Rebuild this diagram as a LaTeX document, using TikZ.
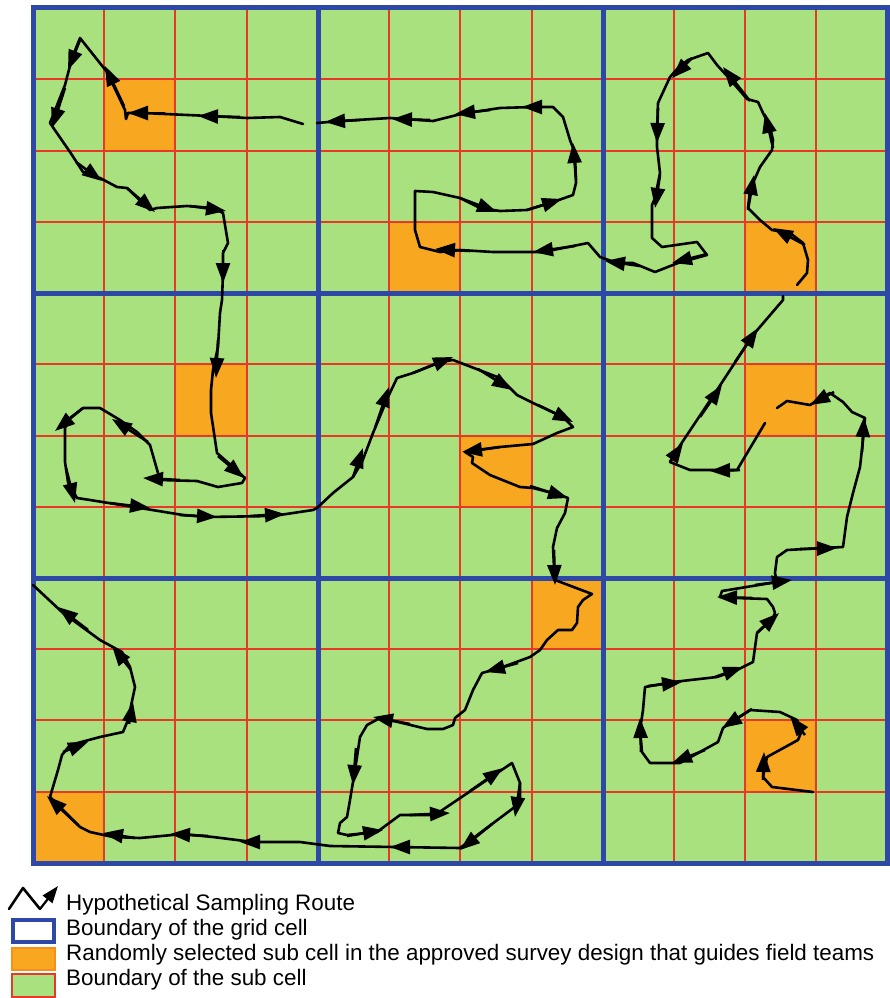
\documentclass[tikz,border=0pt]{standalone}
\usepackage{fontspec}
\setmainfont{Liberation Sans}
\usetikzlibrary{arrows.meta}
\definecolor{gfill}{RGB}{168,225,126}
\definecolor{ofill}{RGB}{247,168,32}
\definecolor{bline}{RGB}{46,72,168}
\definecolor{rline}{RGB}{233,55,42}
\tikzset{
  redl/.style={draw=rline, line width=2pt},
  bluel/.style={draw=bline, line width=5pt, line cap=rect},
  route/.style={draw=black, line width=2.6pt, line join=round, line cap=round},
  arw/.style={draw=black, line width=2.6pt, -{Triangle[length=20pt,width=14pt]}},
  legtext/.style={anchor=base west, inner sep=0pt, font=\fontsize{22.4}{25}\selectfont}
}
\newcommand\myarw[2]{\draw[arw] #1 -- #2;}
\begin{document}
\begin{tikzpicture}[x=1pt,y=-1pt]
\useasboundingbox (0,0) rectangle (889,998);
% background grid
\fill[gfill] (33,8) rectangle (887,863);
\foreach \c/\r in {1/1,5/3,10/3,2/5,6/6,10/5,7/8,0/11,10/10}
  \fill[ofill] ({33+71.2*\c},{8+71.25*\r}) rectangle ++(71.2,71.25);
\foreach \p in {104,175,247,389,460,532,674,745,816}
  \draw[redl] (\p,8) -- (\p,863);
\foreach \p in {79,151,222,364,436,507,649,720,792}
  \draw[redl] (33,\p) -- (887,\p);
\foreach \p in {33,318,603,887}
  \draw[bluel] (\p,8) -- (\p,863);
\foreach \p in {8,293,578,863}
  \draw[bluel] (33,\p) -- (887,\p);
% route
\draw[route] (813,792) -- (772,787) -- (763,777) -- (767,757) -- (798,740) -- (802,730) -- (797,720) -- (780,712) -- (750,710) -- (730,723) -- (723,728) -- (718,742) -- (680,763) -- (650,763) -- (642,752) -- (640,730) -- (643,710) -- (645,687) -- (673,682) -- (717,677) -- (737,670) -- (753,662) -- (757,633) -- (763,627) -- (772,620) -- (775,613) -- (773,607) -- (767,599) -- (737,598) -- (720,597) -- (722,591) -- (777,582) -- (775,573) -- (777,557) -- (787,550) -- (823,548) -- (843,547) -- (847,517) -- (853,493) -- (860,467) -- (863,440) -- (865,418) -- (852,412) -- (843,402) -- (830,393) -- (810,405) -- (787,401) -- (777,408);
\draw[route] (765,423) -- (737,470) -- (690,470) -- (670,462) -- (677,450) -- (717,390) -- (753,335) -- (783,300) -- (783,296);
\draw[route] (797,285) -- (807,273) -- (808,260) -- (803,243) -- (790,233) -- (772,230) -- (760,220) -- (748,208) -- (750,190) -- (753,183) -- (760,167) -- (772,150) -- (773,140) -- (770,127) -- (763,113) -- (758,102) -- (747,99) -- (728,77) -- (717,65) -- (708,53) -- (688,60) -- (678,68) -- (670,77) -- (658,103) -- (657,133) -- (657,147) -- (660,173) -- (655,198) -- (652,205) -- (652,238) -- (662,247) -- (697,242) -- (707,255) -- (678,263) -- (655,272) -- (633,263) -- (617,263) -- (600,257) -- (588,243) -- (543,252) -- (493,252) -- (460,250) -- (440,252) -- (420,247) -- (415,230) -- (415,191) -- (433,192) -- (460,198) -- (480,208) -- (500,211) -- (527,210) -- (553,202) -- (573,195) -- (576,183) -- (575,153) -- (570,140) -- (563,117) -- (553,107) -- (533,107) -- (500,108) -- (467,113) -- (457,115) -- (433,121) -- (390,118) -- (340,121) -- (317,123);
\draw[route] (303,124) -- (280,117) -- (247,118) -- (210,116) -- (143,113) -- (128,113) -- (126,119) -- (125,110) -- (107,72) -- (80,38) -- (72,58) -- (65,85) -- (50,123) -- (70,152) -- (83,172) -- (100,178) -- (117,187) -- (127,188) -- (150,210) -- (157,208) -- (187,206) -- (213,208) -- (223,213) -- (228,243) -- (223,253) -- (223,273) -- (222,300) -- (220,313) -- (218,347) -- (213,370) -- (211,390) -- (211,413) -- (217,453) -- (233,467) -- (245,478) -- (242,483) -- (218,487) -- (197,481) -- (160,480) -- (158,473) -- (150,445) -- (137,432) -- (120,420) -- (100,408) -- (83,408) -- (70,418) -- (65,428) -- (65,462) -- (68,482) -- (77,498) -- (90,500) -- (140,508) -- (183,515) -- (207,517) -- (273,516) -- (313,510) -- (317,508) -- (333,493) -- (353,477) -- (362,462) -- (373,433) -- (388,397) -- (397,378) -- (413,373) -- (440,362) -- (453,360) -- (500,378) -- (517,395) -- (533,403) -- (563,417) -- (573,427) -- (557,433) -- (533,444) -- (500,447) -- (465,452) -- (473,457) -- (472,463) -- (490,475) -- (520,487) -- (533,488) -- (560,495) -- (568,498) -- (565,513) -- (557,528) -- (553,547) -- (554,567) -- (555,580) -- (592,594) -- (583,600) -- (578,607) -- (577,623) -- (572,630) -- (558,630) -- (547,640) -- (540,650) -- (530,657) -- (500,668) -- (482,673) -- (473,690) -- (465,710) -- (455,718) -- (453,725) -- (443,729) -- (427,729) -- (390,720) -- (380,718) -- (367,725) -- (360,737) -- (355,770) -- (350,800) -- (347,817) -- (340,823) -- (338,833) -- (347,835) -- (377,832) -- (400,815) -- (432,815);
\draw[route] (432,817) -- (512,763) -- (520,783) -- (520,803) -- (460,848) -- (330,846) -- (300,842) -- (253,842) -- (213,837) -- (183,834) -- (140,838) -- (113,837) -- (90,832) -- (80,827) -- (50,797) -- (58,770) -- (62,755) -- (70,745) -- (100,737) -- (123,732) -- (128,720) -- (135,687) -- (130,667) -- (122,652) -- (100,640) -- (63,613) -- (33,585);
% arrows: top-left
\myarw{(240,117)}{(198,116)}
\myarw{(165,113)}{(128,113)}
\myarw{(124,106)}{(105,66)}
\myarw{(80,40)}{(68,70)}
\myarw{(65,88)}{(52,128)}
\myarw{(76,162)}{(102,181)}
\myarw{(127,188)}{(155,212)}
\myarw{(190,206)}{(226,211)}
\myarw{(223,250)}{(223,283)}
% top-middle
\myarw{(360,120)}{(325,122)}
\myarw{(430,120)}{(392,119)}
\myarw{(490,110)}{(455,114)}
\myarw{(553,107)}{(522,107)}
\myarw{(576,180)}{(573,143)}
\myarw{(527,210)}{(562,199)}
\myarw{(460,198)}{(497,212)}
\myarw{(470,251)}{(435,249)}
\myarw{(575,246)}{(533,252)}
\myarw{(640,266)}{(605,261)}
% top-right
\myarw{(805,245)}{(773,228)}
\myarw{(748,210)}{(754,175)}
\myarw{(773,148)}{(765,113)}
\myarw{(750,101)}{(723,67)}
\myarw{(692,58)}{(672,78)}
\myarw{(658,108)}{(657,143)}
\myarw{(660,175)}{(655,208)}
\myarw{(707,254)}{(672,263)}
% middle-right
\myarw{(740,470)}{(710,471)}
\myarw{(670,462)}{(683,443)}
\myarw{(700,417)}{(722,385)}
\myarw{(735,362)}{(758,328)}
\myarw{(862,452)}{(864,417)}
\myarw{(800,549)}{(837,548)}
\myarw{(834,392)}{(810,405)}
% bottom-right
\myarw{(763,780)}{(764,752)}
\myarw{(805,735)}{(790,716)}
\myarw{(752,709)}{(722,728)}
\myarw{(705,750)}{(672,763)}
\myarw{(641,752)}{(640,718)}
\myarw{(648,686)}{(682,682)}
\myarw{(715,677)}{(743,667)}
\myarw{(757,633)}{(779,613)}
\myarw{(752,598)}{(717,597)}
\myarw{(755,585)}{(792,580)}
% center
\myarw{(353,477)}{(363,448)}
\myarw{(375,428)}{(389,387)}
\myarw{(413,373)}{(453,357)}
\myarw{(478,369)}{(512,390)}
\myarw{(538,405)}{(573,422)}
\myarw{(500,447)}{(462,452)}
\myarw{(530,486)}{(568,498)}
\myarw{(554,550)}{(555,585)}
% bottom-middle
\myarw{(518,663)}{(485,672)}
\myarw{(410,724)}{(373,717)}
\myarw{(356,748)}{(353,785)}
\myarw{(347,836)}{(383,830)}
\myarw{(410,815)}{(450,813)}
\myarw{(470,791)}{(503,768)}
\myarw{(520,783)}{(515,817)}
\myarw{(492,824)}{(460,850)}
\myarw{(430,847)}{(390,847)}
% bottom-left
\myarw{(280,842)}{(240,842)}
\myarw{(208,836)}{(170,834)}
\myarw{(135,838)}{(103,833)}
\myarw{(78,825)}{(47,796)}
\myarw{(63,752)}{(88,742)}
\myarw{(129,724)}{(133,702)}
\myarw{(131,670)}{(112,646)}
\myarw{(88,630)}{(58,607)}
% middle-left
\myarw{(218,340)}{(216,378)}
\myarw{(218,456)}{(244,478)}
\myarw{(180,480)}{(143,478)}
\myarw{(148,442)}{(112,419)}
\myarw{(83,408)}{(55,431)}
\myarw{(66,468)}{(75,503)}
\myarw{(110,503)}{(150,508)}
\myarw{(180,515)}{(217,517)}
\myarw{(250,516)}{(285,514)}
% legend
\draw[route] (9,909) -- (23,888) -- (40,909);
\draw[draw=black, line width=2.2pt, -{Triangle[length=17pt,width=12pt]}] (40,909) -- (58,886);
\node[legtext] (t1) at (66,910) {Hypothetical Sampling Route};
\draw[draw=bline, line width=4pt, fill=white] (13,920) rectangle (54,942);
\node[legtext] (t2) at (66,935) {Boundary of the grid cell};
\draw[draw=ofill!85!red, line width=1.5pt, fill=ofill] (12,948) rectangle (55,970);
\node[legtext] (t3) at (66,960) {Randomly selected sub cell in the approved survey design that guides field teams};
\draw[draw=rline, line width=2pt, fill=gfill] (12,974) rectangle (55,997);
\node[legtext] (t4) at (66,985) {Boundary of the sub cell};
\end{tikzpicture}
\end{document}
